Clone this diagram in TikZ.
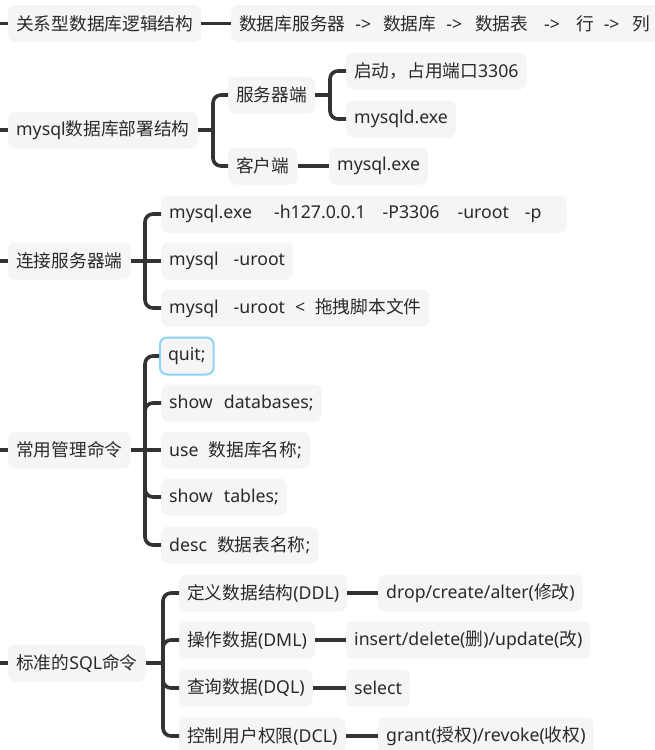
\documentclass[tikz,border=0pt]{standalone}
\usepackage{fontspec}
\setmainfont{Noto Sans}
\newfontfamily\cjkf{Noto Sans CJK SC}
\newcommand\z[1]{{\cjkf #1}}
\newcommand\g[1]{\hspace{#1pt}}
\usetikzlibrary{calc}
\definecolor{boxfill}{HTML}{F5F5F5}
\definecolor{linec}{HTML}{333333}
\definecolor{txt}{HTML}{2A2A2A}
\definecolor{selb}{HTML}{8FD3F7}
\tikzset{
  topic/.style={fill=boxfill, rounded corners=7pt, anchor=west, minimum height=37pt,
    inner xsep=8pt, inner ysep=0pt, text=txt, font=\fontsize{17.7}{20}\selectfont},
  conn/.style={draw=linec, line width=3.6pt, rounded corners=8pt},
  sel/.style={draw=selb, line width=2pt}
}
\begin{document}
\begin{tikzpicture}[x=1pt,y=-1pt]
\useasboundingbox (0,0) rectangle (654,750);
% ---- group 1
\node[topic] (a) at (8,23.5) {\z{关系型数据库逻辑结构}};
\node[topic] (a1) at (231,23.5) {\z{数据库服务器}\g{10}->\g{12}\z{数据库}\g{10}->\g{13}\z{数据表}\g{16}->\g{16}\z{行}\g{10}->\g{13}\z{列}\kern20pt\null};
\coordinate (sa) at (0,23.5);
\draw[conn] (sa) -- (a.west);
\draw[conn] (a.east) -- (a1.west);
% ---- group 2
\node[topic] (b) at (8,130) {mysql\z{数据库部署结构}};
\node[topic] (b1) at (228,95) {\z{服务器端}};
\node[topic] (b2) at (228,166) {\z{客户端}};
\node[topic] (b11) at (346,71) {\z{启动，占用端口}3306};
\node[topic] (b12) at (346,119) {mysqld.exe};
\node[topic] (b21) at (329,166) {mysql.exe};
\coordinate (sb) at (0,130);
\draw[conn] (sb) -- (b.west);
\coordinate (tb) at (213,130);
\draw[conn] (b.east) -- (tb);
\draw[conn] (tb) |- (b1.west);
\draw[conn] (tb) |- (b2.west);
\coordinate (tb1) at (330,95);
\draw[conn] (b1.east) -- (tb1);
\draw[conn] (tb1) |- (b11.west);
\draw[conn] (tb1) |- (b12.west);
\draw[conn] (b2.east) -- (b21.west);
% ---- group 3
\node[topic] (c) at (8,261) {\z{连接服务器端}};
\node[topic] (c1) at (161,214) {mysql.exe\g{22}-h127.0.0.1\g{17}-P3306\g{18}-uroot\g{16}-p\kern17pt\null};
\node[topic] (c2) at (161,261) {mysql\g{15}-uroot};
\node[topic] (c3) at (161,308) {mysql\g{15}-uroot\g{10}<\g{10}\z{拖拽脚本文件}};
\coordinate (sc) at (0,261);
\draw[conn] (sc) -- (c.west);
\coordinate (tc) at (145,261);
\draw[conn] (c.east) -- (c2.west);
\draw[conn] (tc) |- (c1.west);
\draw[conn] (tc) |- (c3.west);
% ---- group 4
\node[topic] (d) at (8,450) {\z{常用管理命令}};
\node[topic, sel] (d1) at (159,356) {quit;};
\node[topic] (d2) at (161,403) {show\g{11}databases;};
\node[topic] (d3) at (161,450) {use\g{10}\z{数据库名称};};
\node[topic] (d4) at (161,497) {show\g{11}tables;};
\node[topic] (d5) at (161,545) {desc\g{10}\z{数据表名称};};
\coordinate (sd) at (0,450);
\draw[conn] (sd) -- (d.west);
\coordinate (td) at (145,450);
\draw[conn] (d.east) -- (d3.west);
\draw[conn] (td) |- (d1.west);
\draw[conn] (td) |- (d2.west);
\draw[conn] (td) |- (d4.west);
\draw[conn] (td) |- (d5.west);
% ---- group 5
\node[topic] (e) at (8,663) {\z{标准的}SQL\z{命令}};
\node[topic] (e1) at (179,593) {\z{定义数据结构}(DDL)};
\node[topic] (e2) at (179,640) {\z{操作数据}(DML)};
\node[topic] (e3) at (179,688) {\z{查询数据}(DQL)};
\node[topic] (e4) at (179,736) {\z{控制用户权限}(DCL)};
\node[topic] (e11) at (378,593) {drop/create/alter(\z{修改})};
\node[topic] (e21) at (346,640) {insert/delete(\z{删})/update(\z{改})};
\node[topic] (e31) at (346,688) {select};
\node[topic] (e41) at (378,736) {grant(\z{授权})/revoke(\z{收权})};
\coordinate (se) at (0,663);
\draw[conn] (se) -- (e.west);
\coordinate (te) at (163,663);
\draw[conn] (e.east) -- (te);
\draw[conn] (te) |- (e1.west);
\draw[conn] (te) |- (e2.west);
\draw[conn] (te) |- (e3.west);
\draw[conn] (te) |- (e4.west);
\draw[conn] (e1.east) -- (e11.west);
\draw[conn] (e2.east) -- (e21.west);
\draw[conn] (e3.east) -- (e31.west);
\draw[conn] (e4.east) -- (e41.west);
\end{tikzpicture}
\end{document}
